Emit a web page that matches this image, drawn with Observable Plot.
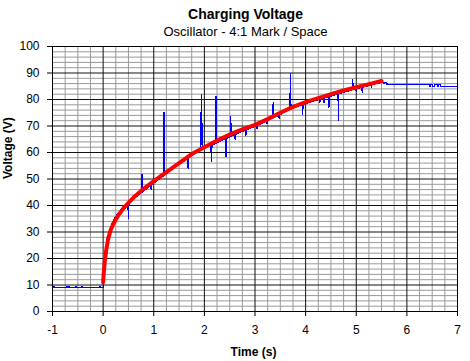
<!DOCTYPE html>
<html>
<head>
<meta charset="utf-8">
<script src="https://cdn.jsdelivr.net/npm/d3@7"></script>
<script src="https://cdn.jsdelivr.net/npm/@observablehq/plot@0.6"></script>
<style>
  html, body { margin: 0; padding: 0; background: #fff; }
  #chart { width: 470px; height: 361px; }
</style>
</head>
<body>
<div id="chart"></div>
<script>
const titleText = "Charging Voltage";
const subtitleText = "Oscillator - 4:1 Mark / Space";
const xLabel = "Time (s)";
const yLabel = "Voltage (V)";

const xTicks = [-1, 0, 1, 2, 3, 4, 5, 6, 7];
const yTicks = [0, 10, 20, 30, 40, 50, 60, 70, 80, 90, 100];
const xMinor = [-0.75,-0.5,-0.25,0.25,0.5,0.75,1.25,1.5,1.75,2.25,2.5,2.75,3.25,3.5,3.75,4.25,4.5,4.75,5.25,5.5,5.75,6.25,6.5,6.75];
const yMinor = [2,4,6,8,12,14,16,18,22,24,26,28,32,34,36,38,42,44,46,48,52,54,56,58,62,64,66,68,72,74,76,78,82,84,86,88,92,94,96,98];

// Fitted (red) curve
const fitT = [0, 0.01, 0.03, 0.06, 0.1, 0.15, 0.2, 0.3, 0.4, 0.5, 0.6, 0.8, 1.0, 1.25, 1.5, 1.75, 2.0, 2.25, 2.5, 2.75, 3.0, 3.25, 3.5, 3.75, 4.0, 4.25, 4.5, 4.75, 5.0, 5.25, 5.5];
const fitV = [11, 14, 18.5, 23, 27.5, 30.8, 33, 36.3, 38.9, 41, 43, 46.3, 49.2, 52.6, 56, 59.4, 62, 64.5, 66.8, 68.7, 70.4, 72.6, 75, 77.2, 79, 80.5, 82, 83.4, 84.6, 85.8, 87];

// Measured (blue) voltage
const blueT = [-1,-0.975,-0.975,-0.965,-0.965,-0.715,-0.715,-0.705,-0.705,-0.68,-0.68,-0.67,-0.67,-0.545,-0.545,-0.535,-0.535,-0.425,-0.425,-0.415,-0.415,-0.06,-0.06,-0.05,-0.05,0.005,
  0.01,0.02,0.03,0.05,0.07,0.1,0.15,0.2,0.25,0.3,0.35,0.4,0.45,0.49,0.5,0.51,0.55,0.6,0.7,0.76,0.77,0.78,0.9,0.94,0.95,0.96,1.0,1.1,1.19,1.2,1.205,1.21,1.3,1.4,1.5,1.6,1.67,1.68,1.69,1.8,1.93,1.94,1.95,1.96,2.05,2.13,2.14,2.15,2.22,2.23,2.24,2.33,2.42,2.43,2.44,2.51,2.52,2.53,2.6,2.61,2.62,2.7,2.81,2.82,2.83,2.92,3.03,3.04,3.05,3.15,3.23,3.24,3.25,3.35,3.36,3.37,3.47,3.48,3.49,3.6,3.69,3.7,3.705,3.71,3.8,3.93,3.94,3.95,4.05,4.15,4.27,4.28,4.29,4.35,4.36,4.37,4.45,4.46,4.47,4.55,4.64,4.65,4.655,4.72,4.8,4.92,4.93,4.94,4.99,5.0,5.01,5.11,5.12,5.13,5.2,5.29,5.3,5.31,5.4,5.47,5.5,5.53,5.54,5.56,5.57,5.6,5.61,
  6.44,6.44,6.47,6.47,6.5,6.5,6.55,6.55,6.6,6.6,6.62,6.62,6.66,6.66,7];
const blueV = [9,9,9.5,9.5,9,9,9.5,9.5,9,9,9.5,9.5,9,9,9.5,9.5,9,9,9.5,9.5,9,9,9.5,9.5,9,9,
  13,18,20.5,23.5,26,28.8,31.8,34.2,35.8,37.2,38.3,39.3,40.1,40.8,35,41,41.7,42.5,44,44.9,51.7,45.1,47,47.5,46.2,47.7,48.4,49.9,51.2,75.2,64,51.4,52.8,54.3,55.5,56.8,57.7,54,58,59.6,61,82,71.4,61.3,62.2,62.7,56.7,62.9,63.4,81.1,63.6,64.4,65.2,58.5,65.4,66,73.6,66.2,66.7,64.8,66.9,67.6,68.3,66.6,68.5,69.3,70.1,69,70.3,71.2,71.9,70.8,72,73,79,73.2,74,72.8,74.2,75.4,76.2,89.7,82,76.4,77.2,78,74.3,78.1,78.8,79.4,80,79,80.1,80.5,78.8,80.6,81,77.1,81.1,81.6,82.1,72.3,82.1,82.6,83,83.6,87.5,83.8,84,83,84.1,84.6,82.8,84.7,85,85.5,84.4,85.6,86,86.3,86.6,86.6,86.1,86.1,86.5,86.5,85.7,
  85.7,84.9,84.9,85.7,85.7,84.9,84.9,85.7,85.7,84.9,84.9,85.7,85.7,84.9,84.9];

const blue = blueT.map((t, i) => ({t, v: blueV[i]}));
const fit = fitT.map((t, i) => ({t, v: fitV[i]}));

const font = "'Liberation Sans', Arial, sans-serif";

const chart = Plot.plot({
  width: 470,
  height: 361,
  marginLeft: 52,
  marginRight: 13,
  marginTop: 46,
  marginBottom: 50,
  style: {fontFamily: font, fontSize: "12px", color: "black", background: "white", overflow: "visible"},
  x: {domain: [-1, 7], axis: null},
  y: {domain: [0, 100], axis: null},
  marks: [
    Plot.gridX(xMinor, {stroke: "#999", strokeOpacity: 1}),
    Plot.gridY(yMinor, {stroke: "#999", strokeOpacity: 1}),
    Plot.gridX(xTicks, {stroke: "#111", strokeOpacity: 1}),
    Plot.gridY(yTicks, {stroke: "#111", strokeOpacity: 1}),
    Plot.axisX(xTicks, {tickSize: 5, tickPadding: 9, tickFormat: d => String(d), label: null, fontSize: 12}),
    Plot.axisY(yTicks, {tickSize: 5, tickPadding: 8, tickFormat: d => String(d), label: null, fontSize: 12}),
    Plot.line(blue, {x: "t", y: "v", stroke: "#0000ff", strokeWidth: 1.3, shapeRendering: "crispEdges"}),
    Plot.line(fit, {x: "t", y: "v", stroke: "#ff0000", strokeWidth: 4}),
    Plot.frame({stroke: "black"}),
    Plot.text([titleText], {text: d => d, frameAnchor: "top", dx: -9.5, dy: -32.2, lineAnchor: "middle", fontSize: 14, fontWeight: "bold"}),
    Plot.text([subtitleText], {text: d => d, frameAnchor: "top", dx: -9.5, dy: -14.2, lineAnchor: "middle", fontSize: 13}),
    Plot.text([xLabel], {text: d => d, frameAnchor: "bottom", dx: -1.5, dy: 41, lineAnchor: "middle", fontSize: 12, fontWeight: "bold"}),
    Plot.text([yLabel], {text: d => d, frameAnchor: "left", dx: -44, rotate: -90, lineAnchor: "middle", fontSize: 12, fontWeight: "bold"})
  ]
});
document.getElementById("chart").appendChild(chart);
</script>
</body>
</html>
